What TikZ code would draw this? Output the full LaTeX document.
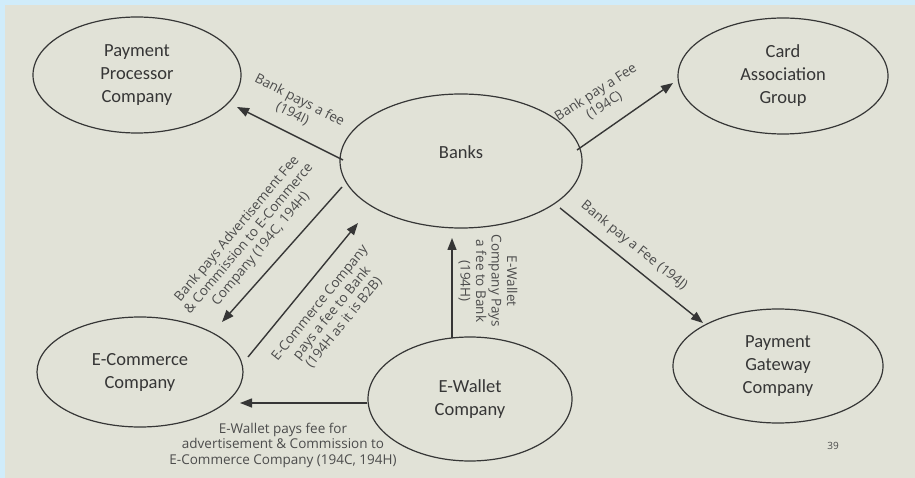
\documentclass[tikz,border=0pt]{standalone}
\usepackage{fontspec}
\setmainfont{Carlito}
\newfontfamily\lblfont{Open Sans}
\usetikzlibrary{shapes.geometric,arrows.meta,calc}
\definecolor{bgpanel}{HTML}{E1E2D7}
\definecolor{bgblue}{HTML}{D0ECFA}
\definecolor{ink}{HTML}{363636}
\definecolor{lbl}{HTML}{4C4C4C}
\begin{document}
\begin{tikzpicture}[x=1pt,y=-1pt,
 enttext/.style={align=center,text=ink,font=\fontsize{18.5}{23}\selectfont},
 ent/.style={ellipse,draw=ink,line width=1.2pt,inner sep=0pt,enttext},
 arr/.style={draw=ink,line width=1.4pt,-{Triangle[length=12pt,width=9pt]}},
 lab/.style={font=\lblfont\fontsize{13.5}{15.5}\selectfont,text=lbl,align=center,inner sep=1pt}]
\fill[bgblue] (0,0) rectangle (915,478);
\fill[bgpanel] (5,5) rectangle (915,478);
\useasboundingbox (0,0) rectangle (915,478);
% entities
\node[ent,minimum width=208,minimum height=116] (ppc) at (137,75) {Payment\\Processor\\Company};
\node[ent,minimum width=210,minimum height=116] (card) at (783,76) {Card\\Association\\Group};
\node[ent,minimum width=242,minimum height=134,label={[enttext,yshift=9pt]center:Banks}] (banks) at (461,161) {};
\node[ent,minimum width=206,minimum height=110] (ecom) at (140,372) {E-Commerce\\Company};
\node[ent,minimum width=204,minimum height=124] (ewal) at (470,399) {E-Wallet\\Company};
\node[ent,minimum width=210,minimum height=114] (gw) at (778,366) {Payment\\Gateway\\Company};
% connectors
\draw[arr] ($(banks)+(-118,-1)$) -- ($(ppc)+(100,32)$);
\draw[arr] ($(banks)+(116,-11)$) -- ($(card)+(-110,7)$);
\draw[arr] ($(banks)+(99,47)$) -- ($(gw)+(-75,-43)$);
\draw[arr] ($(banks)+(-119,26)$) -- ($(ecom)+(82,-50)$);
\draw[arr] ($(ecom)+(108,-15)$) -- ($(banks)+(-103,62)$);
\draw[arr] ($(ewal)+(-18,-61)$) -- ($(banks)+(-9,77)$);
\draw[arr] ($(ewal)+(-103,4)$) -- ($(ecom)+(100,31)$);
% labels
\node[lab,rotate=-27] (l1) at (296,107) {Bank pays a fee\\(194I)};
\node[lab,rotate=33] (l2) at (600,99) {Bank pay a Fee\\(194C)};
\node[lab,rotate=-39] (l3) at (634,246) {Bank pay a Fee (194J)};
\node[lab,rotate=50] (l4) at (249,239) {Bank pays Advertisement Fee\\\& Commission to E-Commerce\\Company (194C, 194H)};
\node[lab,rotate=51] (l5) at (332,313) {E-Commerce Company\\pays a fee to Bank\\(194H as it is B2B)};
\node[lab,rotate=-90] (l6) at (488,281) {E-Wallet\\Company Pays\\a fee to Bank\\(194H)};
\node[lab] (l7) at (283,445) {E-Wallet pays fee for\\advertisement \& Commission to\\E-Commerce Company (194C, 194H)};
\node[lab,font=\lblfont\fontsize{10}{12}\selectfont] (pg) at (833,446) {39};
\end{tikzpicture}
\end{document}
